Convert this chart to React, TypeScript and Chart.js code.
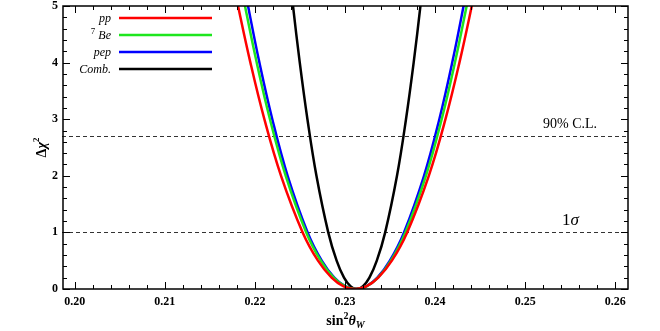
import { useEffect, useRef } from "react";
import { Chart, registerables } from "chart.js";

Chart.register(...registerables);

// Δχ² levels shared by every curve (left branch, minimum, right branch)
const deltaChi2 = [5.6, 5, 4, 3, 2, 1, 0.5, 0.2, 0.05, 0, 0.05, 0.2, 0.5, 1, 2, 3, 4, 5, 5.6];

// sin²θW values at those levels for each data set
const ppX = [0.21737, 0.21813, 0.2195, 0.22105, 0.2229, 0.2253, 0.227, 0.22851, 0.2298, 0.2311, 0.2324, 0.23369, 0.2352, 0.2369, 0.2393, 0.24115, 0.2427, 0.24407, 0.24483];
const be7X = [0.21818, 0.2189, 0.2202, 0.22167, 0.22342, 0.2257, 0.22731, 0.22874, 0.22997, 0.2312, 0.23243, 0.23366, 0.23509, 0.2367, 0.23898, 0.24073, 0.2422, 0.2435, 0.24422];
const pepX = [0.21854, 0.21924, 0.2205, 0.22193, 0.22363, 0.22585, 0.22742, 0.22881, 0.2300, 0.2312, 0.2324, 0.23359, 0.23498, 0.23655, 0.23877, 0.24047, 0.2419, 0.24316, 0.24386];
const combX = [0.22382, 0.22423, 0.22498, 0.22583, 0.22683, 0.22814, 0.22907, 0.22989, 0.2306, 0.2313, 0.232, 0.23271, 0.23353, 0.23446, 0.23577, 0.23677, 0.23762, 0.23837, 0.23878];

const xMajorTicks = [0.2, 0.21, 0.22, 0.23, 0.24, 0.25, 0.26];
const yMajorTicks = [0, 1, 2, 3, 4, 5];
const clLevels = [1, 2.71];

const SERIF = '"Liberation Serif", "Times New Roman", serif';

type Seg = { t: string; font: string; dy?: number };

function richWidth(ctx: CanvasRenderingContext2D, segs: Seg[]) {
  let w = 0;
  for (const s of segs) {
    ctx.font = s.font;
    w += ctx.measureText(s.t).width;
  }
  return w;
}

function drawRich(ctx: CanvasRenderingContext2D, segs: Seg[], x: number, y: number, align: "left" | "right" | "center") {
  const w = richWidth(ctx, segs);
  let cx = align === "left" ? x : align === "right" ? x - w : x - w / 2;
  ctx.textAlign = "left";
  ctx.textBaseline = "alphabetic";
  for (const s of segs) {
    ctx.font = s.font;
    ctx.fillText(s.t, cx, y + (s.dy || 0));
    cx += ctx.measureText(s.t).width;
  }
}

const decorPlugin = {
  id: "decor",
  beforeDatasetsDraw(chart: any) {
    const { ctx, chartArea: a, scales } = chart;
    ctx.save();
    ctx.strokeStyle = "#333";
    ctx.lineWidth = 1;
    ctx.setLineDash([4, 3]);
    for (const lv of clLevels) {
      const y = Math.round(scales.y.getPixelForValue(lv)) + 0.5;
      ctx.beginPath();
      ctx.moveTo(a.left - 1, y);
      ctx.lineTo(a.right, y);
      ctx.stroke();
    }
    ctx.restore();
  },
  afterDraw(chart: any) {
    const { ctx, chartArea: a, scales } = chart;
    const xs = scales.x;
    const ys = scales.y;
    ctx.save();
    ctx.strokeStyle = "#000";
    ctx.fillStyle = "#000";

    // frame
    ctx.lineWidth = 1.5;
    ctx.strokeRect(a.left, a.top, a.right - a.left, a.bottom - a.top);

    // inward ticks on all four sides
    ctx.lineWidth = 1;
    const tick = (x1: number, y1: number, x2: number, y2: number) => {
      ctx.beginPath();
      ctx.moveTo(x1, y1);
      ctx.lineTo(x2, y2);
      ctx.stroke();
    };
    for (let k = 99; k <= 131; k++) {
      const v = k * 0.002;
      if (v < xs.min || v > xs.max) continue;
      const major = k % 5 === 0;
      const len = major ? 7 : 4;
      const x = Math.round(xs.getPixelForValue(v)) + 0.5;
      tick(x, a.bottom, x, a.bottom - len);
      tick(x, a.top, x, a.top + len);
    }
    for (let k = 0; k <= 25; k++) {
      const v = k * 0.2;
      const major = k % 5 === 0;
      const len = major ? 7 : 4;
      const y = Math.round(ys.getPixelForValue(v)) + 0.5;
      tick(a.left, y, a.left + len, y);
      tick(a.right, y, a.right - len, y);
    }

    // legend
    const legend = [
      { label: [{ t: "pp", font: `italic 12px ${SERIF}` }], color: "#ff0000" },
      {
        label: [
          { t: "7", font: `9px ${SERIF}`, dy: -5 },
          { t: " Be", font: `italic 12px ${SERIF}` },
        ],
        color: "#1ee61e",
      },
      { label: [{ t: "pep", font: `italic 12px ${SERIF}` }], color: "#0000ff" },
      { label: [{ t: "Comb.", font: `italic 12px ${SERIF}` }], color: "#000000" },
    ];
    legend.forEach((item, i) => {
      const y = 18 + i * 17;
      ctx.fillStyle = "#000";
      drawRich(ctx, item.label, 111, y + 4, "right");
      ctx.strokeStyle = item.color;
      ctx.lineWidth = 2.5;
      ctx.beginPath();
      ctx.moveTo(119, y);
      ctx.lineTo(212, y);
      ctx.stroke();
    });

    // confidence-level labels
    ctx.fillStyle = "#000";
    drawRich(ctx, [{ t: "90% C.L.", font: `14px ${SERIF}` }], 543, ys.getPixelForValue(2.71) - 8, "left");
    drawRich(
      ctx,
      [
        { t: "1", font: `17px ${SERIF}` },
        { t: "σ", font: `italic 17px ${SERIF}` },
      ],
      562,
      ys.getPixelForValue(1) - 7,
      "left"
    );

    // axis titles
    drawRich(
      ctx,
      [
        { t: "sin", font: `bold 14px ${SERIF}` },
        { t: "2", font: `bold 10px ${SERIF}`, dy: -6 },
        { t: "θ", font: `bold italic 14px ${SERIF}` },
        { t: "W", font: `bold italic 10px ${SERIF}`, dy: 3 },
      ],
      (a.left + a.right) / 2,
      325,
      "center"
    );
    ctx.save();
    ctx.translate(46, (a.top + a.bottom) / 2);
    ctx.rotate(-Math.PI / 2);
    drawRich(
      ctx,
      [
        { t: "Δ", font: `bold 14px ${SERIF}` },
        { t: "χ", font: `bold italic 14px ${SERIF}` },
        { t: "2", font: `bold 9px ${SERIF}`, dy: -7 },
      ],
      0,
      0,
      "center"
    );
    ctx.restore();
    ctx.restore();
  },
};

function toPoints(xsArr: number[]) {
  return xsArr.map((x, i) => ({ x, y: deltaChi2[i] }));
}

export default function App() {
  const ref = useRef<HTMLCanvasElement | null>(null);

  useEffect(() => {
    if (!ref.current) return;
    const lineDs = (label: string, data: number[], color: string) => ({
      label,
      data: toPoints(data),
      borderColor: color,
      backgroundColor: color,
      borderWidth: 2.5,
      pointRadius: 0,
      fill: false,
      tension: 0.4,
      clip: 0,
    });
    const tickFont = { family: SERIF, size: 12, weight: "bold" as const };
    const chart = new Chart(ref.current, {
      type: "line",
      data: {
        datasets: [
          lineDs("pp", ppX, "#ff0000"),
          lineDs("7Be", be7X, "#1ee61e"),
          lineDs("pep", pepX, "#0000ff"),
          lineDs("Comb.", combX, "#000000"),
        ],
      },
      options: {
        animation: false,
        responsive: false,
        layout: { padding: { left: 0, right: 32, top: 6, bottom: 0 } },
        plugins: { legend: { display: false }, tooltip: { enabled: false } },
        scales: {
          x: {
            type: "linear",
            min: 0.1987,
            max: 0.26141,
            grid: { display: false, drawTicks: false },
            border: { display: false },
            afterBuildTicks: (s: any) => {
              s.ticks = xMajorTicks.map((v) => ({ value: v }));
            },
            afterFit: (s: any) => {
              s.height = 42;
              s.paddingLeft = 0;
              s.paddingRight = 0;
            },
            ticks: {
              padding: 6,
              color: "#000",
              font: tickFont,
              maxRotation: 0,
              autoSkip: false,
              callback: (v: any) => Number(v).toFixed(2),
            },
          },
          y: {
            type: "linear",
            min: 0,
            max: 5,
            grid: { display: false, drawTicks: false },
            border: { display: false },
            afterBuildTicks: (s: any) => {
              s.ticks = yMajorTicks.map((v) => ({ value: v }));
            },
            afterFit: (s: any) => {
              s.width = 63;
              s.paddingTop = 0;
              s.paddingBottom = 0;
            },
            ticks: {
              padding: 5,
              color: "#000",
              font: tickFont,
              callback: (v: any) => String(v),
            },
          },
        },
      },
      plugins: [decorPlugin],
    });
    return () => chart.destroy();
  }, []);

  return (
    <div style={{ position: "fixed", left: 0, top: 0, width: 660, height: 331, background: "#fff" }}>
      <canvas ref={ref} width={660} height={331} style={{ display: "block" }} />
    </div>
  );
}
